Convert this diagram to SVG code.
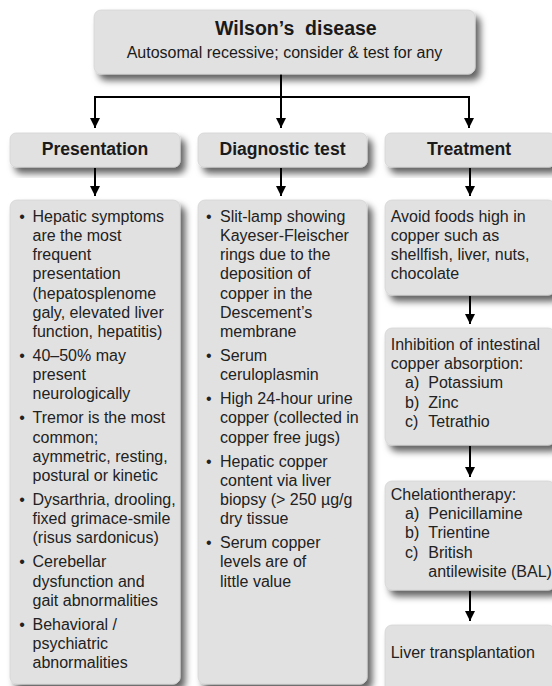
<svg xmlns="http://www.w3.org/2000/svg" width="552" height="686" viewBox="0 0 552 686">
  <style>
    .box { fill: #e1e1e1; stroke: #d4d4d4; stroke-width: 0.8; filter: url(#shadow); }
    .title { font-family: "Liberation Sans", Arial, sans-serif; font-size: 19.5px; font-weight: bold; fill: #1a1a1a; }
    .sub { font-family: "Liberation Sans", Arial, sans-serif; font-size: 16px; fill: #1a1a1a; }
    .head { font-family: "Liberation Sans", Arial, sans-serif; font-size: 17.6px; font-weight: bold; fill: #1a1a1a; text-anchor: middle; }
    .body { font-family: "Liberation Sans", Arial, sans-serif; font-size: 16px; fill: #222; }
    .wire { fill: none; stroke: #000; stroke-width: 2; }
  </style>
  <defs>
    <filter id="shadow" x="-20%" y="-20%" width="150%" height="150%">
      <feGaussianBlur in="SourceAlpha" stdDeviation="3.5"/>
      <feOffset dx="5" dy="6" result="blur"/>
      <feFlood flood-color="#000" flood-opacity="0.62"/>
      <feComposite in2="blur" operator="in"/>
      <feMerge>
        <feMergeNode/>
        <feMergeNode in="SourceGraphic"/>
      </feMerge>
    </filter>
    <marker id="arrow" viewBox="0 0 10 10" refX="10" refY="5" markerWidth="5.2" markerHeight="5.2" orient="auto" markerUnits="strokeWidth">
      <path d="M0,0 L10,5 L0,10 Z" fill="#000"/>
    </marker>
  </defs>

  <rect width="552" height="686" fill="#fff"/>

  <!-- connectors -->
  <g id="connectors">
    <path class="wire" d="M281,74 V128" marker-end="url(#arrow)"/>
    <path class="wire" d="M95,128 V97 H469 V128" marker-end="url(#arrow)"/>
    <path class="wire" d="M95,97 V128" marker-end="url(#arrow)"/>
    <path class="wire" d="M95,168 V196" marker-end="url(#arrow)"/>
    <path class="wire" d="M281,168 V196" marker-end="url(#arrow)"/>
    <path class="wire" d="M470,168 V196" marker-end="url(#arrow)"/>
    <path class="wire" d="M470,296 V324" marker-end="url(#arrow)"/>
    <path class="wire" d="M470,446 V477" marker-end="url(#arrow)"/>
    <path class="wire" d="M470,591 V621" marker-end="url(#arrow)"/>
  </g>

  <!-- root node -->
  <g id="wilson">
    <rect class="box" x="94" y="10" width="381" height="64" rx="7"/>
    <text class="title" x="215" y="35">Wilson’s&#160; disease</text>
    <text class="sub" x="284.5" y="58" text-anchor="middle">Autosomal recessive; consider &amp; test for any</text>
  </g>

  <!-- column headers -->
  <g id="presentation">
    <rect class="box" x="10" y="133" width="170" height="34" rx="6"/>
    <text class="head" x="95" y="155">Presentation</text>
  </g>
  <g id="diagnostic-test">
    <rect class="box" x="198" y="133" width="169" height="34" rx="6"/>
    <text class="head" x="282.5" y="155">Diagnostic test</text>
  </g>
  <g id="treatment">
    <rect class="box" x="385" y="133" width="170" height="34" rx="6"/>
    <text class="head" x="469" y="155">Treatment</text>
  </g>

  <!-- presentation details -->
  <g id="presentation-list">
    <rect class="box" x="10" y="200" width="170" height="484" rx="7"/>
    <g class="body">
      <text x="19.2" y="221.7">•</text>
      <text x="19.2" y="360.9">•</text>
      <text x="19.2" y="423.3">•</text>
      <text x="19.2" y="504.9">•</text>
      <text x="19.2" y="567.3">•</text>
      <text x="19.2" y="629.7">•</text>
      <text x="32.5" y="221.7">Hepatic symptoms</text>
      <text x="32.5" y="240.9">are the most</text>
      <text x="32.5" y="260.1">frequent</text>
      <text x="32.5" y="279.3">presentation</text>
      <text x="32.5" y="298.5">(hepatosplenome</text>
      <text x="32.5" y="317.7">galy, elevated liver</text>
      <text x="32.5" y="336.9">function, hepatitis)</text>
      <text x="32.5" y="360.9">40–50% may</text>
      <text x="32.5" y="380.1">present</text>
      <text x="32.5" y="399.3">neurologically</text>
      <text x="32.5" y="423.3">Tremor is the most</text>
      <text x="32.5" y="442.5">common;</text>
      <text x="32.5" y="461.7">aymmetric, resting,</text>
      <text x="32.5" y="480.9">postural or kinetic</text>
      <text x="32.5" y="504.9">Dysarthria, drooling,</text>
      <text x="32.5" y="524.1">fixed grimace-smile</text>
      <text x="32.5" y="543.3">(risus sardonicus)</text>
      <text x="32.5" y="567.3">Cerebellar</text>
      <text x="32.5" y="586.5">dysfunction and</text>
      <text x="32.5" y="605.7">gait abnormalities</text>
      <text x="32.5" y="629.7">Behavioral /</text>
      <text x="32.5" y="648.9">psychiatric</text>
      <text x="32.5" y="668.1">abnormalities</text>
    </g>
  </g>

  <!-- diagnostic details -->
  <g id="diagnostic-list">
    <rect class="box" x="198" y="200" width="169" height="484" rx="7"/>
    <g class="body">
      <text x="206" y="221.7">•</text>
      <text x="206" y="360.9">•</text>
      <text x="206" y="404.1">•</text>
      <text x="206" y="466.5">•</text>
      <text x="206" y="548.1">•</text>
      <text x="220" y="221.7">Slit-lamp showing</text>
      <text x="220" y="240.9">Kayeser-Fleischer</text>
      <text x="220" y="260.1">rings due to the</text>
      <text x="220" y="279.3">deposition of</text>
      <text x="220" y="298.5">copper in the</text>
      <text x="220" y="317.7">Descement’s</text>
      <text x="220" y="336.9">membrane</text>
      <text x="220" y="360.9">Serum</text>
      <text x="220" y="380.1">ceruloplasmin</text>
      <text x="220" y="404.1">High 24-hour urine</text>
      <text x="220" y="423.3">copper (collected in</text>
      <text x="220" y="442.5">copper free jugs)</text>
      <text x="220" y="466.5">Hepatic copper</text>
      <text x="220" y="485.7">content via liver</text>
      <text x="220" y="504.9">biopsy (&gt; 250 µg/g</text>
      <text x="220" y="524.1">dry tissue</text>
      <text x="220" y="548.1">Serum copper</text>
      <text x="220" y="567.3">levels are of</text>
      <text x="220" y="586.5">little value</text>
    </g>
  </g>

  <!-- treatment steps -->
  <g id="diet">
    <rect class="box" x="385" y="200" width="170" height="95" rx="7"/>
    <g class="body">
      <text x="390.7" y="221.7">Avoid foods high in</text>
      <text x="390.7" y="240.9">copper such as</text>
      <text x="390.7" y="260.1">shellfish, liver, nuts,</text>
      <text x="390.7" y="279.3">chocolate</text>
    </g>
  </g>
  <g id="absorption">
    <rect class="box" x="385" y="328" width="170" height="117" rx="7"/>
    <g class="body">
      <text x="390.7" y="350">Inhibition of intestinal</text>
      <text x="390.7" y="369.2">copper absorption:</text>
      <text x="405" y="388.4">a)</text>
      <text x="428.3" y="388.4">Potassium</text>
      <text x="405" y="407.6">b)</text>
      <text x="428.3" y="407.6">Zinc</text>
      <text x="405" y="426.8">c)</text>
      <text x="428.3" y="426.8">Tetrathio</text>
    </g>
  </g>
  <g id="chelation">
    <rect class="box" x="385" y="481" width="170" height="109" rx="7"/>
    <g class="body">
      <text x="390.7" y="500">Chelationtherapy:</text>
      <text x="405" y="519.2">a)</text>
      <text x="428.3" y="519.2">Penicillamine</text>
      <text x="405" y="538.4">b)</text>
      <text x="428.3" y="538.4">Trientine</text>
      <text x="405" y="557.6">c)</text>
      <text x="428.3" y="557.6">British</text>
      <text x="428.3" y="576.8">antilewisite (BAL)</text>
    </g>
  </g>
  <g id="transplant">
    <rect class="box" x="385" y="625" width="170" height="70" rx="7"/>
    <text class="body" x="390.7" y="658.3">Liver transplantation</text>
  </g>
</svg>
